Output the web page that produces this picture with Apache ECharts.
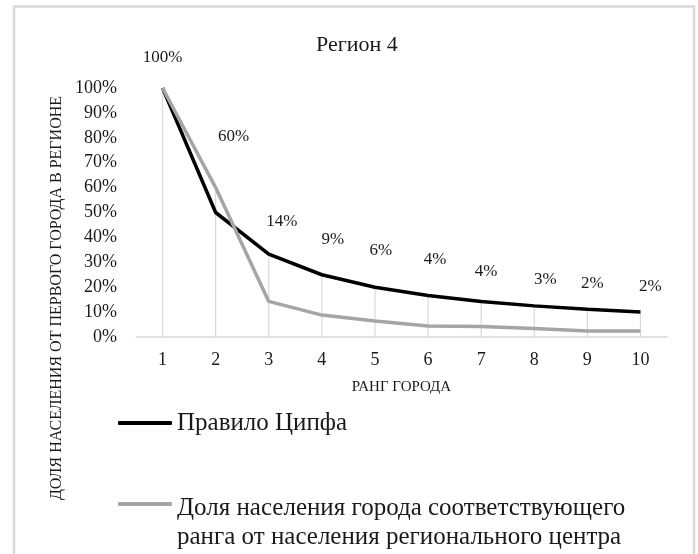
<!DOCTYPE html>
<html>
<head>
<meta charset="utf-8">
<script src="https://cdn.jsdelivr.net/npm/echarts@6/dist/echarts.min.js"></script>
<style>
  html, body { margin: 0; padding: 0; background: #fff; }
  #chart { width: 698px; height: 554px; }
</style>
</head>
<body>
<div id="chart"></div>
<script>
// ранги городов
const ranks = ['1', '2', '3', '4', '5', '6', '7', '8', '9', '10']
// правило Ципфа: 1/n
const zipf = [1, 0.5, 0.333, 0.25, 0.2, 0.167, 0.143, 0.125, 0.111, 0.1]
// фактическая доля населения
const actual = [1, 0.6, 0.143, 0.088, 0.064, 0.044, 0.042, 0.034, 0.024, 0.024]
const yTicks = [0, 0.1, 0.2, 0.3, 0.4, 0.5, 0.6, 0.7, 0.8, 0.9, 1]

const zipfName = 'Правило Ципфа'
const actualName = 'Доля населения города соответствующего\nранга от населения регионального центра'

// сдвиги подписей (как в исходнике — подписи смещены вручную)
const labelShift = [[0, -30], [18, -51], [13, -80], [11, -76], [6, -71], [7, -67], [5, -55], [11, -49], [5, -47], [10, -44]]

const font = 'Liberation Serif'
const dropLines = ranks.map((_, i) => Math.max(zipf[i], actual[i]))

const legendBase = {
  orient: 'vertical', left: 113,
  itemWidth: 54, itemHeight: 4, icon: 'roundRect',
  textStyle: { fontFamily: font, fontSize: 25, lineHeight: 29, color: '#1a1a1a', rich: { pad: { lineHeight: 38, fontSize: 10 } } },
}

const chart = echarts.init(document.getElementById('chart'), null, { renderer: 'canvas' })

chart.setOption({
  backgroundColor: '#fff',
  animation: false,
  textStyle: { fontFamily: font },
  title: {
    text: 'Регион 4',
    left: 311, top: 29,
    textStyle: { fontFamily: font, fontSize: 22, fontWeight: 'normal', color: '#1a1a1a' },
  },
  graphic: [
    { type: 'rect', shape: { x: 14, y: 6.5, width: 680, height: 560 }, style: { fill: 'none', stroke: '#d9d9d9', lineWidth: 2.5 }, silent: true },
    {
      type: 'text', x: 57, y: 298, rotation: Math.PI / 2,
      style: { text: 'ДОЛЯ НАСЕЛЕНИЯ ОТ ПЕРВОГО ГОРОДА В РЕГИОНЕ', font: '16px "Liberation Serif"', fill: '#1a1a1a', align: 'center', verticalAlign: 'middle' },
    },
  ],
  grid: { left: 136, right: 31, top: 88, bottom: 217 },
  legend: [
    Object.assign({}, legendBase, { top: 403.5, data: [zipfName] }),
    // пустая первая строка опускает текст относительно значка, как в оригинале
    Object.assign({}, legendBase, { top: 451, data: [actualName], formatter: name => '{pad| }\n' + name }),
  ],
  xAxis: {
    type: 'category', data: ranks,
    name: 'РАНГ ГОРОДА', nameLocation: 'middle', nameGap: 43,
    nameTextStyle: { fontFamily: font, fontSize: 15, color: '#1a1a1a' },
    axisLine: { lineStyle: { color: '#d9d9d9', width: 1.5 } },
    axisTick: { show: false },
    axisLabel: { fontFamily: font, fontSize: 18, color: '#1a1a1a', margin: 14 },
  },
  yAxis: {
    type: 'value', min: yTicks[0], max: yTicks[yTicks.length - 1], interval: yTicks[1] - yTicks[0],
    axisLine: { show: false }, axisTick: { show: false },
    splitLine: { show: false },
    axisLabel: { fontFamily: font, fontSize: 18, color: '#1a1a1a', margin: 19, formatter: v => Math.round(v * 100) + '%' },
  },
  series: [
    {
      name: 'drop', type: 'bar', data: dropLines, barWidth: 1.2, silent: true, z: 1,
      itemStyle: { color: '#d9d9d9' },
    },
    {
      name: zipfName, type: 'line', data: zipf, symbol: 'none', z: 3,
      lineStyle: { color: '#000', width: 3.5 }, itemStyle: { color: '#000' },
    },
    {
      name: actualName, type: 'line', symbol: 'circle', symbolSize: 0.1, showSymbol: true, z: 4,
      data: actual.map((v, i) => ({
        value: v,
        label: { offset: labelShift[i] },
      })),
      lineStyle: { color: '#a5a5a5', width: 3.5 }, itemStyle: { color: '#a5a5a5' },
      label: {
        show: true, position: 'inside',
        fontFamily: font, fontSize: 17, color: '#1a1a1a',
        formatter: p => Math.round(p.value * 100) + '%',
      },
    },
  ],
})
</script>
</body>
</html>
